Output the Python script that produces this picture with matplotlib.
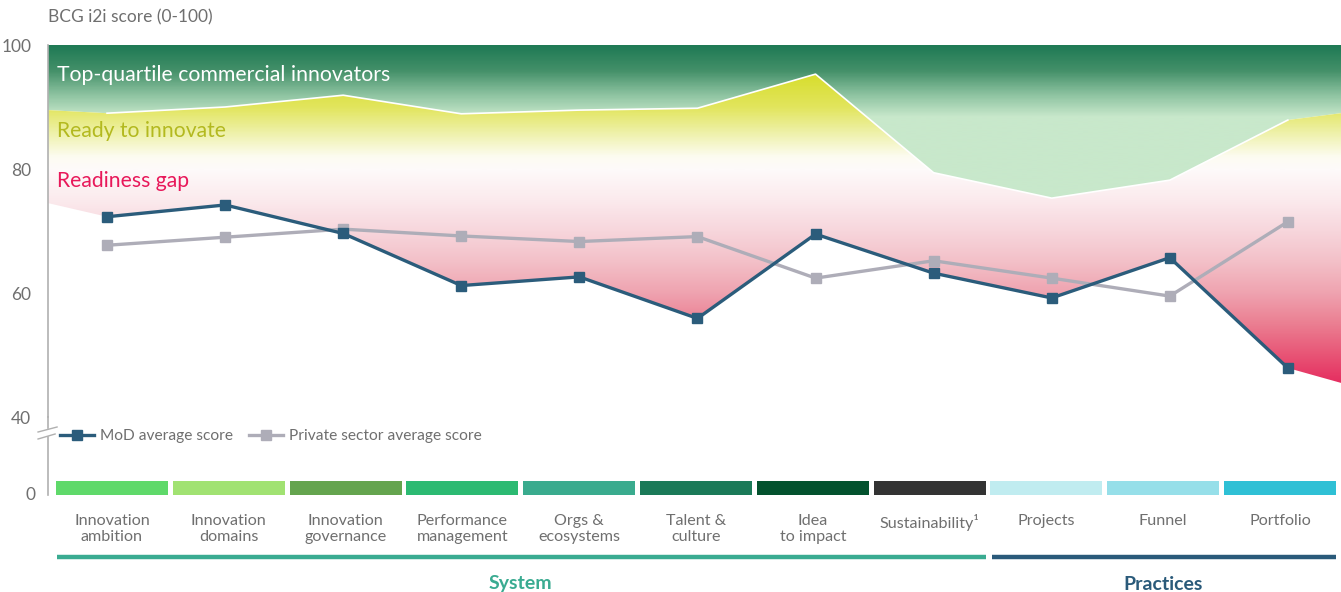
import numpy as np
import matplotlib
matplotlib.use("Agg")
import matplotlib.pyplot as plt
import matplotlib.transforms as mtransforms
from matplotlib.colors import LinearSegmentedColormap, Normalize
from matplotlib.patches import Polygon

plt.rcParams['font.family'] = ['Lato', 'DejaVu Sans']

# data
categories = ["Innovation\nambition", "Innovation\ndomains", "Innovation\ngovernance",
              "Performance\nmanagement", "Orgs &\necosystems", "Talent &\nculture",
              "Idea\nto impact", "Sustainability\u00b9", "Projects", "Funnel", "Portfolio"]
mod_scores = [72.3, 74.2, 69.6, 61.2, 62.6, 55.9, 69.5, 63.2, 59.2, 65.7, 47.9]
private_scores = [67.7, 69.0, 70.3, 69.2, 68.3, 69.1, 62.4, 65.2, 62.4, 59.5, 71.5]
top_quartile = [89.0, 90.0, 91.9, 88.9, 89.5, 89.8, 95.3, 79.4, 75.3, 78.2, 87.9]
# band values at the left / right edge of the plot
top_edges = [89.5, 89.0]
gap_edges = [74.5, 45.5]

groups = ["System", "Practices"]
group_sizes = [8, 3]
group_colors = ["#3aab91", "#2a5a7a"]
bar_colors = ["#5fd96a", "#a1e272", "#64a44e", "#2cba72", "#3aab8e", "#1b7a58",
              "#03522e", "#333333", "#c0ecf0", "#96dfe9", "#2fc0d5"]

TEXT = "#6f6f6f"
MOD_C = "#2b5c7b"
PRIV_C = "#aeadb8"

W, H = 1341, 592
fig = plt.figure(figsize=(W / 100, H / 100), dpi=100)

L = 48 / W
ax = fig.add_axes([L, (H - 417) / H, 1 - L, (417 - 45) / H])
xlo, xhi = -0.5, 10.45
x = np.arange(len(categories))

# gradients
green = LinearSegmentedColormap.from_list("g", [
    (0.0, "#c8e8cb"), ((88.5 - 40) / 60, "#c8e8cb"), ((92 - 40) / 60, "#8fc4a2"),
    ((96 - 40) / 60, "#449069"), (1.0, "#1f7a55")])
lower = LinearSegmentedColormap.from_list("r", [
    (0.0, "#e21650"), (5 / 60, "#e52a5e"), (10 / 60, "#e85576"), (15 / 60, "#eb7f92"),
    (20 / 60, "#efa3b0"), (25 / 60, "#f3c0c8"), (30 / 60, "#f7d6dc"), (35 / 60, "#fbeaed"),
    (40 / 60, "#fefafa"), (42 / 60, "#fdfcf2"), (46 / 60, "#eef1a8"), (50 / 60, "#e2e55e"),
    (55 / 60, "#d8de30"), (1.0, "#d5db1f")])
grad = np.linspace(100, 40, 600).reshape(-1, 1)
norm = Normalize(40, 100)

xe = np.concatenate([[xlo], x, [xhi]])
top_e = np.concatenate([[top_edges[0]], top_quartile, [top_edges[1]]])
gap_e = np.concatenate([[gap_edges[0]], mod_scores, [gap_edges[1]]])

upper_poly = Polygon(np.column_stack([np.concatenate([xe, xe[::-1]]),
                                      np.concatenate([top_e, np.full(len(xe), 100)])]),
                     closed=True, facecolor="none", edgecolor="none", transform=ax.transData)
lower_poly = Polygon(np.column_stack([np.concatenate([xe, xe[::-1]]),
                                      np.concatenate([top_e, gap_e[::-1]])]),
                     closed=True, facecolor="none", edgecolor="none", transform=ax.transData)
ax.add_patch(upper_poly)
ax.add_patch(lower_poly)
im1 = ax.imshow(grad, extent=[xlo, xhi, 40, 100], cmap=green, norm=norm, aspect="auto",
                origin="upper", zorder=1, interpolation="bilinear")
im1.set_clip_path(upper_poly)
im2 = ax.imshow(grad, extent=[xlo, xhi, 40, 100], cmap=lower, norm=norm, aspect="auto",
                origin="upper", zorder=1, interpolation="bilinear")
im2.set_clip_path(lower_poly)

ax.plot(x, top_quartile, color="white", lw=1.2, zorder=2)
ax.plot(x, private_scores, color=PRIV_C, lw=2.4, marker="s", ms=7, zorder=3,
        label="Private sector average score")
ax.plot(x, mod_scores, color=MOD_C, lw=2.4, marker="s", ms=7, zorder=4,
        label="MoD average score")

ax.text(-0.42, 95.2, "Top-quartile commercial innovators", color="white", fontsize=15.3, va="center")
ax.text(-0.42, 86.1, "Ready to innovate", color="#b3b91f", fontsize=15.2, va="center")
ax.text(-0.42, 78.1, "Readiness gap", color="#e8185a", fontsize=15.2, va="center")

ax.set_xlim(xlo, xhi)
ax.set_ylim(40, 100)
ax.set_xticks([])
ax.set_yticks([40, 60, 80, 100])
ax.tick_params(axis="y", length=0, pad=12, labelsize=12.5, labelcolor=TEXT)
for s in ["top", "right", "bottom"]:
    ax.spines[s].set_visible(False)
ax.spines["left"].set_color("#b0b0b0")
ax.spines["left"].set_linewidth(1.2)

h, l = ax.get_legend_handles_labels()
ax.legend(h[::-1], l[::-1], loc="center left", bbox_to_anchor=(60 / W, 1 - 436 / H),
          bbox_transform=fig.transFigure, ncol=2, frameon=False, fontsize=11.2,
          labelcolor=TEXT, handlelength=2.2, columnspacing=1.0, handletextpad=0.4,
          borderaxespad=0, borderpad=0)

# bottom strip: category bars, labels, groups
axb = fig.add_axes([L, 0, 1 - L, (H - 417) / H])
axb.set_xlim(-(112 - 48) / 116.8, (1341 - 112) / 116.8)
axb.set_ylim(175, 0)
axb.axis("off")
axb.bar(x, 14, bottom=64, width=0.96, color=bar_colors)
for i, c in enumerate(categories):
    axb.text(i, 97, c, ha="center", va="top", fontsize=11.6, color=TEXT, linespacing=1.15)

start = 0
for g, n, col in zip(groups, group_sizes, group_colors):
    axb.plot([start - 0.47, start + n - 1 + 0.48], [140, 140], color=col, lw=3.2,
             solid_capstyle="butt", clip_on=False)
    axb.text(start + (n - 1) / 2, 167, g, ha="center", va="center", fontsize=14,
             fontweight="bold", color=col)
    start += n

# axis continuation with break and the zero label
bt = mtransforms.blended_transform_factory(axb.transAxes, axb.transData)
axb.plot([0, 0], [0, 11], color="#b0b0b0", lw=1.2, transform=bt, clip_on=False)
axb.plot([0, 0], [20, 78], color="#b0b0b0", lw=1.2, transform=bt, clip_on=False)
axb.plot([-0.0077, 0.007], [15, 10], color="#b0b0b0", lw=1.0, transform=bt, clip_on=False)
axb.plot([-0.0077, 0.0055], [22, 17], color="#b0b0b0", lw=1.0, transform=bt, clip_on=False)
axb.text(-0.0095, 78, "0", transform=bt, ha="right", va="center", fontsize=12.5, color=TEXT)

fig.text(L, 1 - 17 / H, "BCG i2i score (0-100)", ha="left", va="center", fontsize=12.5, color=TEXT)

fig.savefig("out.png", dpi=100)
